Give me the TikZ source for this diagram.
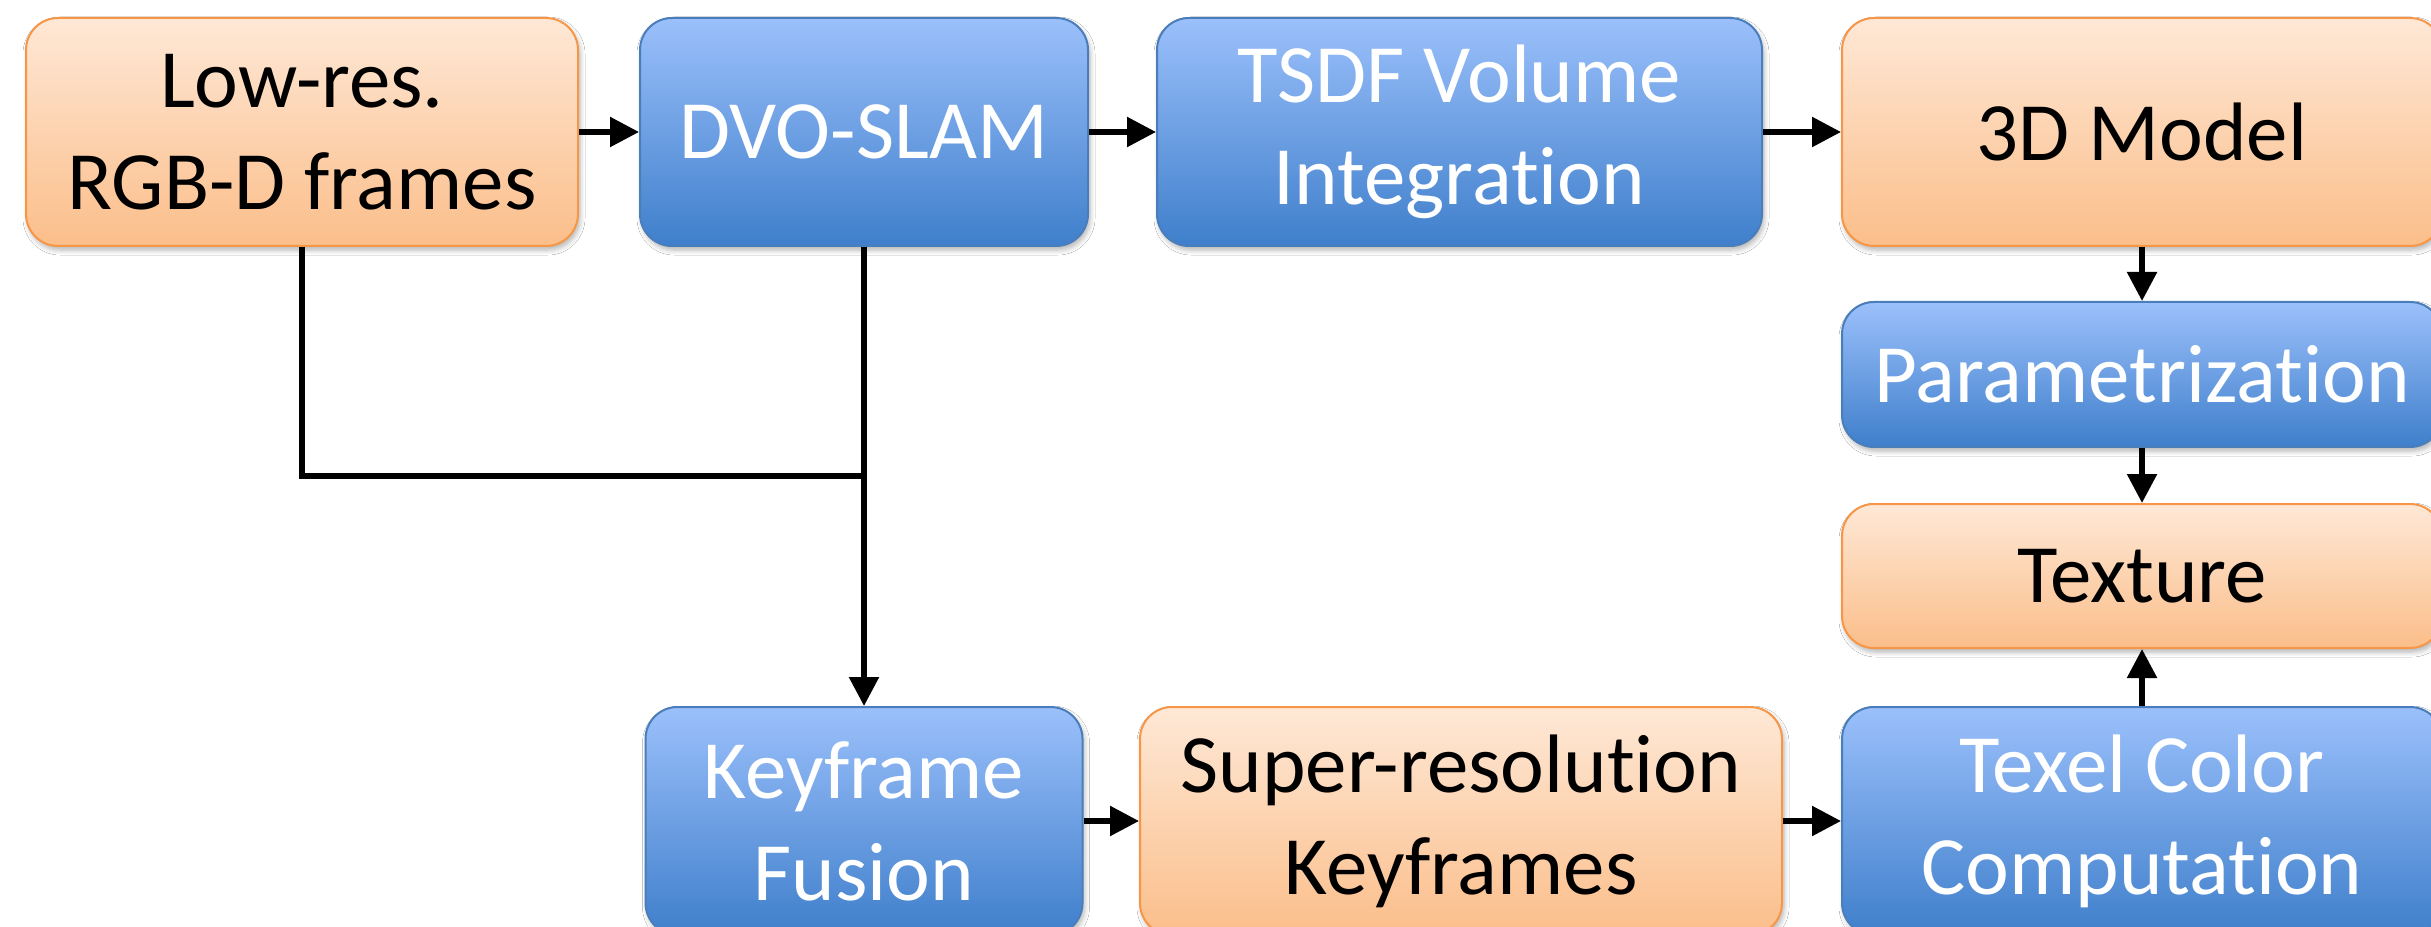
\documentclass[tikz,border=0pt]{standalone}
\usepackage{fontspec}
\setmainfont{Carlito}[RawFeature={-liga;-clig;-dlig}]
\usetikzlibrary{arrows.meta,shadows.blur}
\definecolor{otop}{RGB}{254,232,214}
\definecolor{obot}{RGB}{251,190,138}
\definecolor{oline}{RGB}{247,150,70}
\definecolor{btop}{RGB}{155,192,251}
\definecolor{bbot}{RGB}{63,127,203}
\definecolor{bline}{RGB}{74,126,187}
\tikzset{
  box/.style={rectangle, rounded corners=0.32cm, inner sep=0pt, align=center,
    minimum height=2.28cm, line width=0.02cm,
    font=\fontsize{23.6}{29}\selectfont,
    blur shadow={shadow xshift=0.02cm, shadow yshift=-0.04cm, shadow opacity=30, shadow blur radius=0.05cm, shadow blur steps=6}},
  obox/.style={box, draw=oline, top color=otop, bottom color=obot, text=black},
  bbox/.style={box, draw=bline, top color=btop, bottom color=bbot, text=white},
  arr/.style={line width=0.055cm, -{Triangle[length=0.29cm,width=0.29cm]}},
  ln/.style={line width=0.055cm}
}
\begin{document}
\begin{tikzpicture}
\clip (0,0) rectangle (24.31,-9.27);
\fill[white] (0,0) rectangle (24.31,-9.27);
\node[obox, minimum width=5.52cm] (low) at (3.02,-1.32) {Low-res.\\RGB-D frames};
\node[bbox, minimum width=4.48cm] (dvo) at (8.64,-1.32) {DVO-SLAM};
\node[bbox, minimum width=6.05cm] (tsdf) at (14.595,-1.32) {TSDF Volume\\Integration};
\node[obox, minimum width=6.00cm] (model) at (21.42,-1.32) {3D Model};
\node[bbox, minimum width=6.00cm, minimum height=1.45cm] (param) at (21.42,-3.745) {Parametrization};
\node[obox, minimum width=6.00cm, minimum height=1.44cm] (tex) at (21.42,-5.76) {Texture};
\node[bbox, minimum width=6.00cm] (texel) at (21.42,-8.21) {Texel Color\\Computation};
\node[bbox, minimum width=4.37cm] (kf) at (8.64,-8.21) {Keyframe\\Fusion};
\node[obox, minimum width=6.42cm] (sr) at (14.61,-8.21) {Super-resolution\\Keyframes};
\coordinate (j) at (8.64,-4.76);
\draw[arr] (low) -- (dvo);
\draw[arr] (dvo) -- (tsdf);
\draw[arr] (tsdf) -- (model);
\draw[arr] (model) -- (param);
\draw[arr] (param) -- (tex);
\draw[arr] (texel) -- (tex);
\draw[arr] (kf) -- (sr);
\draw[arr] (sr) -- (texel);
\draw[ln] (low.south) |- (j);
\draw[arr] (dvo.south) -- (kf.north);
\end{tikzpicture}
\end{document}
